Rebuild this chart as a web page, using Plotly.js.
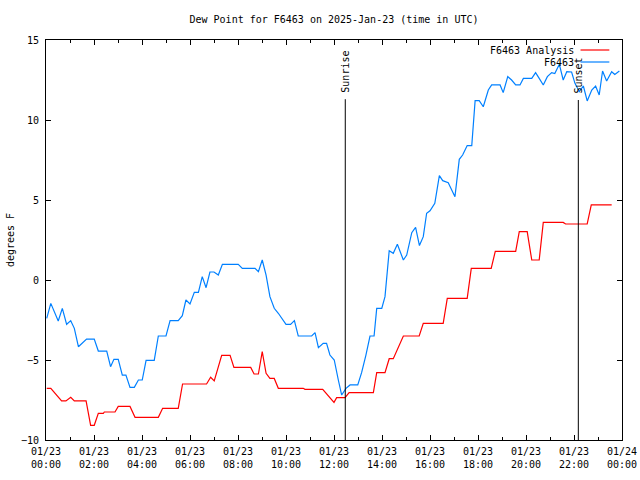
<!DOCTYPE html>
<html>
<head>
<meta charset="utf-8">
<script src="https://cdn.plot.ly/plotly-3.0.1.min.js"></script>
<style>html,body{margin:0;padding:0;background:#fff;}#chart{width:640px;height:480px;}</style>
</head>
<body>
<div id="chart"></div>
<script>
// Time in hours since 2025-01-23 00:00 UTC
const analysisHours = [0.03,0.2,0.65,0.83,1.03,1.18,1.67,1.86,2.01,2.18,2.39,2.43,2.875,3.01,3.5,3.71,4.68,4.86,5.51,5.69,6.69,6.86,7.01,7.32,7.67,7.83,8.53,8.67,8.85,9.01,9.17,9.33,9.51,9.68,10.72,10.79,11.53,12.0,12.11,12.46,12.63,13.64,13.78,14.125,14.3,14.47,14.89,15.55,15.72,16.55,16.72,17.55,17.72,18.55,18.72,19.57,19.72,20.05,20.24,20.55,20.72,21.55,21.65,22.55,22.72,23.57];
const analysisDew = [-6.77,-6.77,-7.56,-7.56,-7.33,-7.56,-7.56,-9.08,-9.08,-8.33,-8.33,-8.25,-8.25,-7.9,-7.9,-8.58,-8.58,-8.02,-8.02,-6.5,-6.5,-6.08,-6.31,-4.71,-4.71,-5.46,-5.46,-5.875,-5.875,-4.48,-5.83,-6.15,-6.15,-6.77,-6.77,-6.83,-6.83,-7.65,-7.35,-7.35,-7.04,-7.04,-5.79,-5.79,-4.92,-4.92,-3.5,-3.5,-2.71,-2.71,-1.15,-1.15,0.73,0.73,1.79,1.79,3.02,3.02,1.25,1.25,3.6,3.6,3.5,3.5,4.69,4.69];

const obsHours = [0.03,0.2,0.51,0.68,0.86,1.03,1.18,1.35,1.69,2.01,2.18,2.53,2.69,2.83,3.01,3.18,3.33,3.5,3.68,3.85,4.01,4.17,4.51,4.68,5.0,5.17,5.51,5.68,5.83,6.0,6.18,6.35,6.51,6.67,6.83,7.0,7.18,7.35,8.01,8.18,8.71,8.85,9.01,9.17,9.33,9.51,9.68,10.0,10.19,10.35,10.51,11.07,11.21,11.35,11.55,11.69,11.83,12.01,12.18,12.32,12.5,12.67,12.99,13.15,13.33,13.5,13.67,13.78,13.99,14.125,14.3,14.47,14.64,14.89,15.03,15.24,15.4,15.56,15.72,15.86,16.0,16.07,16.2,16.39,16.53,16.76,17.04,17.22,17.36,17.55,17.74,17.88,18.05,18.22,18.43,18.57,18.92,19.05,19.24,19.4,19.57,19.75,19.89,20.24,20.4,20.55,20.72,20.89,21.07,21.2,21.39,21.55,21.7,21.9,22.04,22.22,22.39,22.55,22.74,22.9,23.05,23.19,23.36,23.57,23.7,23.89];
const obsDew = [-2.4,-1.46,-2.56,-1.77,-2.77,-2.54,-3.02,-4.17,-3.69,-3.69,-4.44,-4.44,-5.42,-4.96,-4.96,-5.94,-5.94,-6.71,-6.71,-6.25,-6.25,-5.02,-5.02,-3.5,-3.5,-2.54,-2.54,-2.23,-1.25,-1.5,-0.77,-0.77,0.21,-0.48,0.5,0.5,0.31,0.98,0.98,0.73,0.73,0.52,1.25,0.31,-1.04,-1.77,-2.08,-2.77,-2.77,-2.54,-3.5,-3.5,-3.29,-4.23,-3.96,-3.96,-4.69,-5.0,-6.25,-7.19,-6.77,-6.56,-6.56,-5.79,-4.69,-3.5,-3.5,-1.77,-1.77,-1.04,1.83,1.67,2.23,1.25,1.56,2.96,3.29,2.15,2.71,4.17,4.33,4.48,4.79,6.52,6.21,6.08,5.21,7.54,7.81,8.4,8.4,11.21,11.21,10.83,11.875,12.19,12.19,11.71,12.71,12.5,12.19,12.19,12.6,12.6,12.96,12.6,12.19,12.71,12.96,12.9,13.48,12.5,13.02,13.0,12.29,11.77,12.125,11.19,11.875,12.125,11.56,13.06,12.44,13.02,12.85,13.06];

const tickHours = [0,2,4,6,8,10,12,14,16,18,20,22,24];
const tickLabels = ['01/23<br>00:00','01/23<br>02:00','01/23<br>04:00','01/23<br>06:00','01/23<br>08:00','01/23<br>10:00','01/23<br>12:00','01/23<br>14:00','01/23<br>16:00','01/23<br>18:00','01/23<br>20:00','01/23<br>22:00','01/24<br>00:00'];
const yTicks = [-10,-5,0,5,10,15];

const eventHours = [12.47, 22.18];
const eventLabels = ['Sunrise','Sunset'];
const eventLineTop = [11.3, 11.25];

const seriesNames = ['F6463 Analysis','F6463'];
const seriesColors = ['#ff0000','#0080ff'];

const FONT = 'DejaVu Sans Mono, monospace';

const traces = [
  {x: analysisHours, y: analysisDew, type:'scatter', mode:'lines', name: seriesNames[0], line:{color:seriesColors[0], width:1.2}, showlegend:false, hoverinfo:'skip'},
  {x: obsHours, y: obsDew, type:'scatter', mode:'lines', name: seriesNames[1], line:{color:seriesColors[1], width:1.2}, showlegend:false, hoverinfo:'skip'}
];

const shapes = [];
const annotations = [];
eventHours.forEach((h,i) => {
  shapes.push({type:'line', xref:'x', yref:'y', x0:h, x1:h, y0:-10, y1:eventLineTop[i], line:{color:'#000', width:1}});
  annotations.push({xref:'x', yref:'y', x:h, y:eventLineTop[i]+0.3, text:eventLabels[i], textangle:-90, showarrow:false, xanchor:'center', yanchor:'bottom', font:{family:FONT, size:10, color:'#000'}});
});

// legend (text then line sample, gnuplot style)
const legY = [0.975, 0.945];
seriesNames.forEach((n,i) => {
  annotations.push({xref:'paper', yref:'paper', x:0.920, y:legY[i], text:n, showarrow:false, xanchor:'right', yanchor:'middle', font:{family:FONT, size:10, color:'#000'}});
  shapes.push({type:'line', xref:'paper', yref:'paper', x0:0.928, x1:0.978, y0:legY[i], y1:legY[i], line:{color:seriesColors[i], width:1.2}});
});

const layout = {
  width:640, height:480,
  margin:{l:46, r:18, t:40, b:40, pad:0},
  paper_bgcolor:'#fff', plot_bgcolor:'#fff',
  font:{family:FONT, size:10, color:'#000'},
  title:{text:'Dew Point for F6463 on 2025-Jan-23 (time in UTC)', x:0.5, xref:'paper', xanchor:'center', y:1-19/480, yref:'container', yanchor:'middle', font:{family:FONT, size:10, color:'#000'}},
  xaxis:{range:[0,24], tickvals:tickHours, ticktext:tickLabels, ticks:'inside', ticklen:5, tickcolor:'#000', tickwidth:1,
         showline:true, linecolor:'#000', linewidth:1, mirror:'ticks', showgrid:false, zeroline:false,
         minor:{dtick:1, tick0:0, ticks:'inside', ticklen:3, tickcolor:'#000', showgrid:false},
         tickfont:{family:FONT, size:10, color:'#000'}, ticklabelstandoff:2, fixedrange:true},
  yaxis:{range:[-10,15], tickvals:yTicks, ticks:'inside', ticklen:5, tickcolor:'#000', tickwidth:1,
         showline:true, linecolor:'#000', linewidth:1, mirror:'ticks', showgrid:false, zeroline:false,
         tickfont:{family:FONT, size:10, color:'#000'}, ticklabelstandoff:4,
         title:{text:'degrees F', standoff:4, font:{family:FONT, size:10, color:'#000'}}, fixedrange:true},
  shapes:shapes, annotations:annotations, showlegend:false
};

Plotly.newPlot('chart', traces, layout, {staticPlot:true, displayModeBar:false});
</script>
</body>
</html>
